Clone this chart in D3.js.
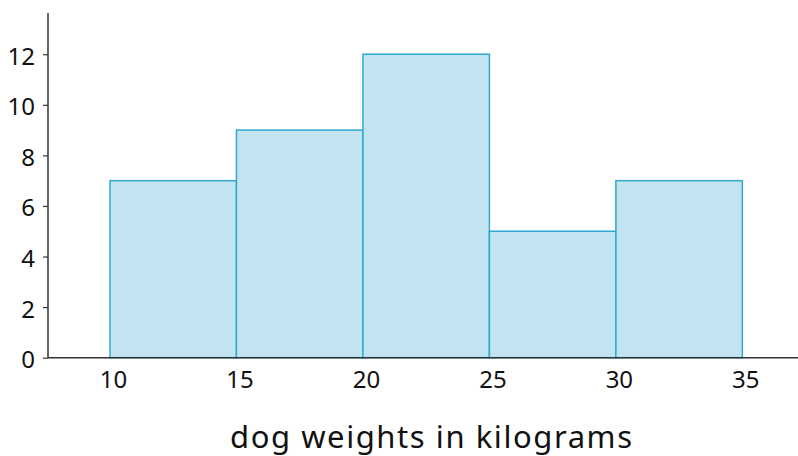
<!DOCTYPE html>
<html><head><meta charset="utf-8">
<script src="https://cdn.jsdelivr.net/npm/d3@7"></script>
<style>body{margin:0;background:#fff}svg{display:block}</style>
</head><body><svg id="c" width="798" height="456"></svg>
<script>
const binStarts = [10, 15, 20, 25, 30];
const binEnds = [15, 20, 25, 30, 35];
const counts = [7, 9, 12, 5, 7];
const xTicks = [10, 15, 20, 25, 30, 35];
const yTicks = [0, 2, 4, 6, 8, 10, 12];
const xLabel = "dog weights in kilograms";

(function () {
const svg = d3.select("#c");
const mLeft = 48, mRight = 798, mTop = 13, mBottom = 357.7;
const x = d3.scaleLinear().domain([7.55, 37.2]).range([mLeft, mRight]);
const y = d3.scaleLinear().domain([0, 13.63]).range([mBottom, mTop]);

const font = "'Noto Sans', 'Open Sans', sans-serif";

svg.selectAll("rect.bar").data(counts).join("rect")
  .attr("class", "bar")
  .attr("x", (d, i) => x(binStarts[i]))
  .attr("width", (d, i) => x(binEnds[i]) - x(binStarts[i]))
  .attr("y", d => y(d))
  .attr("height", d => y(0) - y(d))
  .attr("fill", "#c1e4f0")
  .attr("stroke", "#30a8d2")
  .attr("stroke-width", 1.5);

const yAxis = svg.append("g").attr("transform", `translate(${mLeft},0)`)
  .call(d3.axisLeft(y).tickValues(yTicks).tickSize(5).tickPadding(8));
yAxis.select(".domain").attr("d", `M0,${mTop}V${mBottom}`).attr("stroke", "#333").attr("stroke-width", 1.5);
yAxis.selectAll(".tick line").attr("stroke", "#333").attr("stroke-width", 1.2);
yAxis.selectAll("text").attr("font-family", font).attr("font-size", 24).attr("fill", "#111")
  .attr("dy", "10px");

const xAxis = svg.append("g").attr("transform", `translate(0,${mBottom})`)
  .call(d3.axisBottom(x).tickValues(xTicks).tickSize(0));
xAxis.select(".domain").attr("d", `M${mLeft},0H${mRight}`).attr("stroke", "#333").attr("stroke-width", 1.5);
xAxis.selectAll("text").attr("font-family", font).attr("font-size", 24).attr("fill", "#111")
  .attr("y", 30.5).attr("dy", 0).attr("dx", 3);

svg.append("text").attr("x", 431).attr("y", 448).attr("text-anchor", "middle")
  .attr("font-family", font).attr("font-size", 31).attr("fill", "#111")
  .attr("textLength", 402).attr("lengthAdjust", "spacing").text(xLabel);
})();
</script></body></html>
